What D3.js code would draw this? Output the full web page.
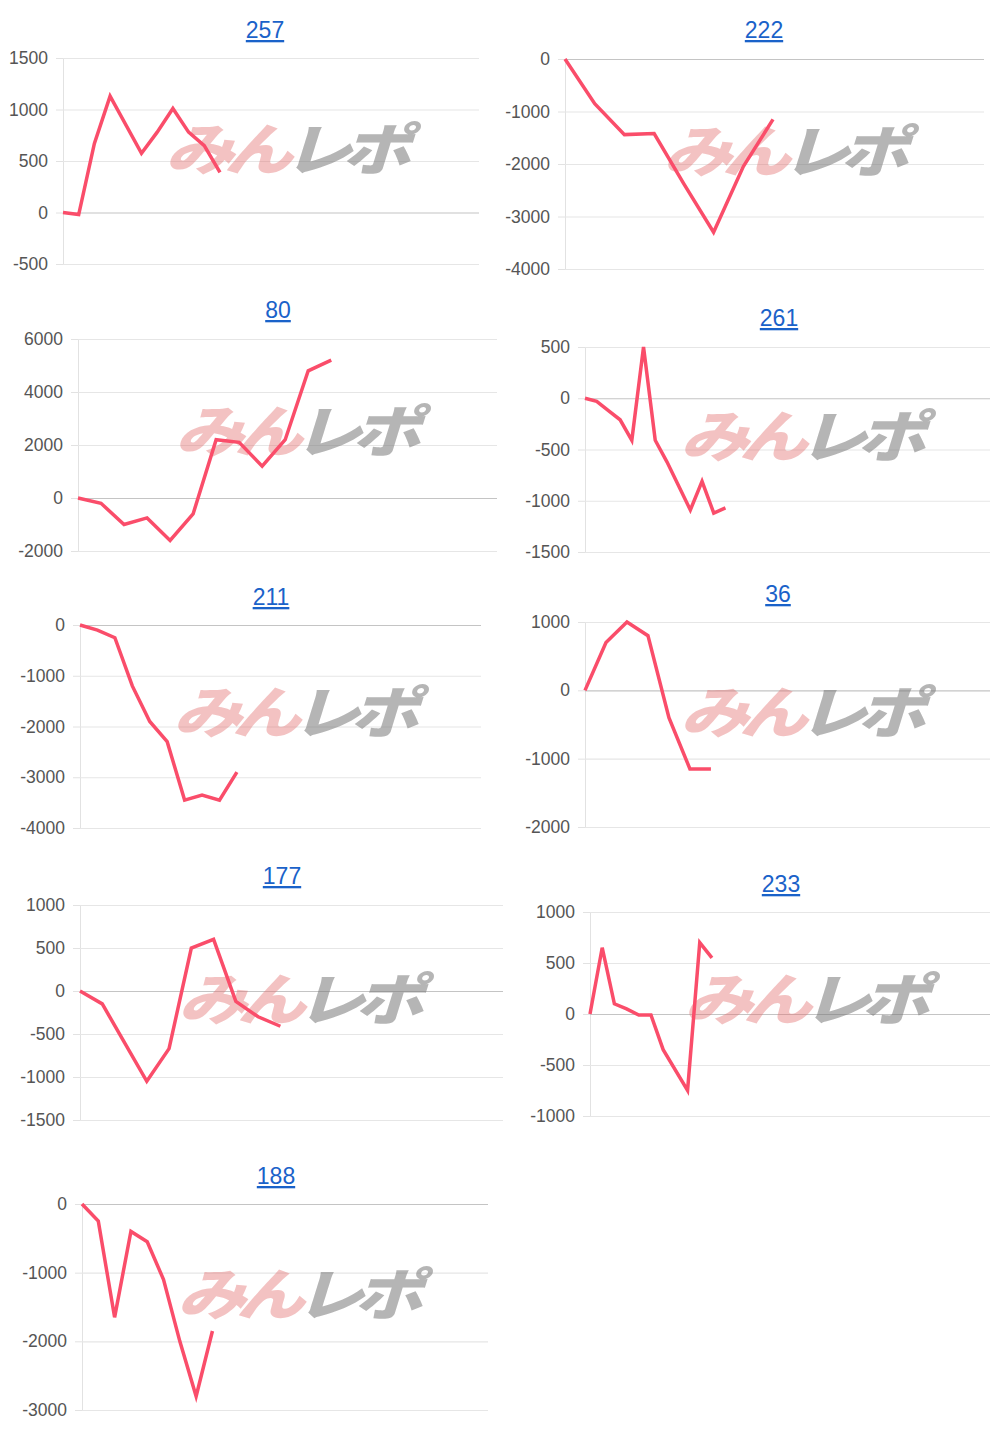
<!DOCTYPE html>
<html><head><meta charset="utf-8">
<script src="https://cdn.jsdelivr.net/npm/d3@7"></script>
<style>body{margin:0;background:#fff}svg{display:block}</style>
</head><body>
<svg id="c" width="1000" height="1435"></svg>
<script>
// ---- data ----
const titles = ["257","222","80","261","211","36","177","233","188"];
const xIdx = [
  [0,1,2,3,5,6,7,8,9,10],
  [0,1,2,3,4,5,6,7],
  [0,1,2,3,4,5,6,7,8,9,10,11],
  [0,1,2,3,4,5,6,7,9,10,11,12],
  [0,1,2,3,4,5,6,7,8,9],
  [0,1,2,3,4,5,6],
  [0,1,2,3,4,5,6,7,8,9],
  [0,1,2,3,4,5,6,8,9,10],
  [0,1,2,3,4,5,6,7,8]
];
const values = [
  [0,-20,670,1130,575,780,1010,780,650,390],
  [0,-850,-1440,-1420,-2380,-3300,-2050,-1150],
  [0,-200,-1000,-750,-1600,-600,2200,2100,1200,2200,4800,5200],
  [0,-30,-120,-210,-410,500,-410,-620,-1090,-810,-1120,-1070],
  [0,-100,-250,-1200,-1900,-2300,-3450,-3350,-3450,-2900],
  [0,700,1000,800,-400,-1150,-1150],
  [0,-150,-600,-1050,-670,500,600,-120,-300,-410],
  [0,650,100,50,-10,-10,-350,-750,700,550],
  [0,-250,-1650,-400,-550,-1100,-2000,-2800,-1850]
];
const tickLists = [
  [1500,1000,500,0,-500],
  [0,-1000,-2000,-3000,-4000],
  [6000,4000,2000,0,-2000],
  [500,0,-500,-1000,-1500],
  [0,-1000,-2000,-3000,-4000],
  [1000,0,-1000,-2000],
  [1000,500,0,-500,-1000,-1500],
  [1000,500,0,-500,-1000],
  [0,-1000,-2000,-3000]
];
const slotCount = [26.5,14.1,18.2,34.6,23,19.3,19,32.8,24.9];
// ---- layout ----
const boxes = [
  {l:63,r:479,t:58,b:264,tx:265,ty:30,wx:165,wy:150},
  {l:565,r:984,t:59,b:269,tx:764,ty:30,wx:663,wy:152},
  {l:78,r:497,t:339,b:551,tx:278,ty:310,wx:175,wy:432},
  {l:585,r:990,t:347,b:552,tx:779,ty:318,wx:680,wy:437},
  {l:80,r:481,t:625,b:828,tx:271,ty:597,wx:173,wy:713},
  {l:585,r:990,t:622,b:827,tx:778,ty:594,wx:680,wy:713},
  {l:80,r:503,t:905,b:1120,tx:282,ty:876,wx:178,wy:1000},
  {l:590,r:990,t:912,b:1116,tx:781,ty:884,wx:684,wy:1000},
  {l:82,r:488,t:1204,b:1410,tx:276,ty:1176,wx:177,wy:1295}
];
const svg = d3.select("#c");
const font = "Helvetica, 'Liberation Sans', Arial, sans-serif";
boxes.forEach((bx,i)=>{
  const g = svg.append("g");
  const tk = tickLists[i];
  const y = d3.scaleLinear().domain([d3.min(tk),d3.max(tk)]).range([bx.b,bx.t]);
  const x = d3.scaleLinear().domain([0,slotCount[i]]).range([bx.l,bx.r]);
  const ax = d3.axisLeft(y).tickValues(tk).tickSize(-(bx.r-bx.l)).tickPadding(15).tickFormat(d=>String(d));
  const ag = g.append("g").attr("transform",`translate(${bx.l},0)`).call(ax);
  ag.select(".domain").attr("stroke","#e2e2e2");
  ag.selectAll(".tick line").attr("stroke",d=>d===0?"#c4c4c4":"#e6e6e6").attr("stroke-width",1.2);
  ag.selectAll(".tick text").attr("fill","#555").style("font-size","17.5px").style("font-family",font);
  ag.selectAll(".tick").append("line").attr("x1",-7).attr("x2",0).attr("stroke","#e2e2e2");
  g.append("text").attr("x",bx.tx).attr("y",bx.ty+8).attr("text-anchor","middle")
    .attr("fill","#1a62c9").style("font-size","23px").style("font-family",font)
    .style("text-decoration","underline").text(titles[i]);
  // watermark
  const w = g.append("text").attr("x",bx.wx).attr("y",bx.wy+20)
    .style("font-size","56px").style("font-weight","900").style("font-style","italic")
    .style("font-family","'Noto Sans CJK JP', sans-serif")
    .attr("textLength",236).attr("lengthAdjust","spacingAndGlyphs").attr("letter-spacing","-8");
  w.append("tspan").attr("fill","rgba(226,110,110,0.42)").text("みん");
  w.append("tspan").attr("fill","rgba(120,120,120,0.55)").text("レポ");
  const pts = xIdx[i].map((xi,k)=>[xi,values[i][k]]);
  g.append("path").datum(pts)
    .attr("d",d3.line().x(d=>x(d[0])).y(d=>y(d[1])))
    .attr("fill","none").attr("stroke","#fa4d6a").attr("stroke-width",3.5)
    .attr("stroke-linejoin","miter");
});
</script>
</body></html>
